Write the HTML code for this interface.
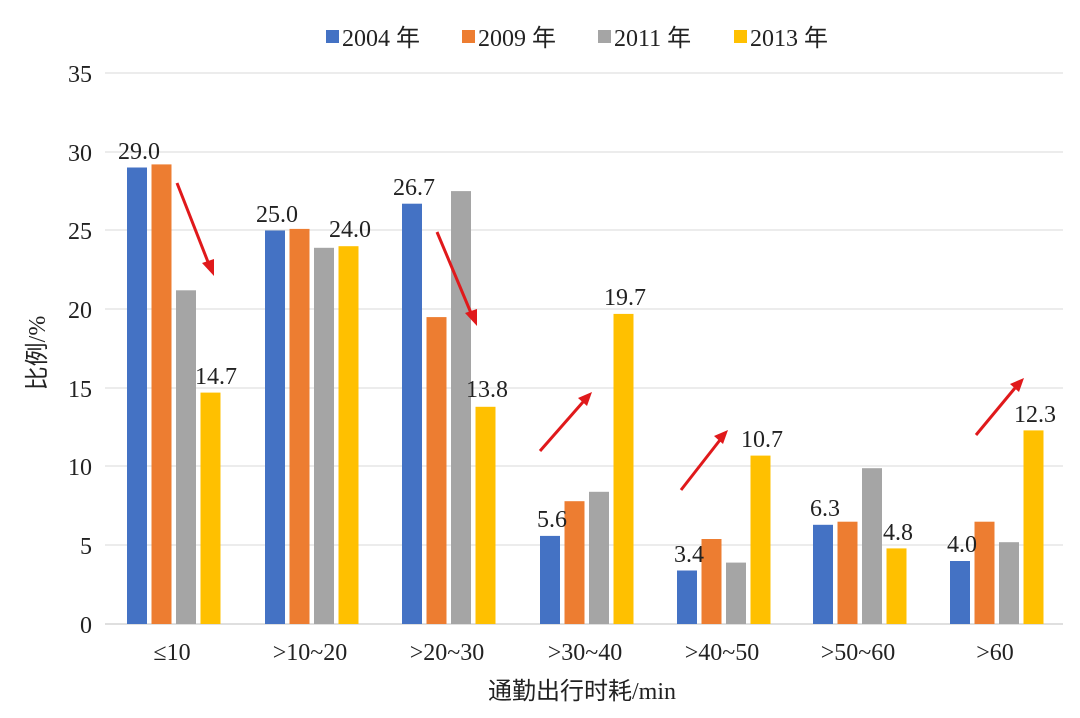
<!DOCTYPE html>
<html><head><meta charset="utf-8"><style>
body{margin:0;background:#fff;}
text{font-family:"Liberation Serif","Noto Sans CJK SC",serif;fill:#222;}
</style></head><body>
<svg width="1080" height="713" xmlns="http://www.w3.org/2000/svg">
<g stroke="#d9d9d9" stroke-width="1">
<line x1="105" x2="1063" y1="73" y2="73"/><line x1="105" x2="1063" y1="152" y2="152"/>
<line x1="105" x2="1063" y1="230" y2="230"/><line x1="105" x2="1063" y1="309" y2="309"/>
<line x1="105" x2="1063" y1="388" y2="388"/><line x1="105" x2="1063" y1="466" y2="466"/>
<line x1="105" x2="1063" y1="545" y2="545"/>
</g>
<line x1="105" x2="1063" y1="624" y2="624" stroke="#bfbfbf"/>
<g font-size="24" text-anchor="end">
<text x="92" y="82">35</text><text x="92" y="161">30</text><text x="92" y="239">25</text>
<text x="92" y="318">20</text><text x="92" y="397">15</text><text x="92" y="475">10</text>
<text x="92" y="554">5</text><text x="92" y="633">0</text></g>
<g>
<rect x="127" y="167.5" width="20" height="456.5" fill="#4472C4"/><rect x="151.5" y="164.4" width="20" height="459.6" fill="#ED7D31"/><rect x="176" y="290.3" width="20" height="333.7" fill="#A5A5A5"/><rect x="200.5" y="392.6" width="20" height="231.4" fill="#FFC000"/>
<rect x="265" y="230.5" width="20" height="393.5" fill="#4472C4"/><rect x="289.5" y="228.9" width="20" height="395.1" fill="#ED7D31"/><rect x="314" y="247.8" width="20" height="376.2" fill="#A5A5A5"/><rect x="338.5" y="246.2" width="20" height="377.8" fill="#FFC000"/>
<rect x="402" y="203.7" width="20" height="420.3" fill="#4472C4"/><rect x="426.5" y="317.1" width="20" height="306.9" fill="#ED7D31"/><rect x="451" y="191.1" width="20" height="432.9" fill="#A5A5A5"/><rect x="475.5" y="406.8" width="20" height="217.2" fill="#FFC000"/>
<rect x="540" y="535.9" width="20" height="88.1" fill="#4472C4"/><rect x="564.5" y="501.2" width="20" height="122.8" fill="#ED7D31"/><rect x="589" y="491.8" width="20" height="132.2" fill="#A5A5A5"/><rect x="613.5" y="313.9" width="20" height="310.1" fill="#FFC000"/>
<rect x="677" y="570.5" width="20" height="53.5" fill="#4472C4"/><rect x="701.5" y="539" width="20" height="85" fill="#ED7D31"/><rect x="726" y="562.6" width="20" height="61.4" fill="#A5A5A5"/><rect x="750.5" y="455.6" width="20" height="168.4" fill="#FFC000"/>
<rect x="813" y="524.8" width="20" height="99.2" fill="#4472C4"/><rect x="837.5" y="521.7" width="20" height="102.3" fill="#ED7D31"/><rect x="862" y="468.2" width="20" height="155.8" fill="#A5A5A5"/><rect x="886.5" y="548.4" width="20" height="75.6" fill="#FFC000"/>
<rect x="950" y="561" width="20" height="63" fill="#4472C4"/><rect x="974.5" y="521.7" width="20" height="102.3" fill="#ED7D31"/><rect x="999" y="542.2" width="20" height="81.8" fill="#A5A5A5"/><rect x="1023.5" y="430.4" width="20" height="193.6" fill="#FFC000"/>
</g>
<g font-size="24" text-anchor="middle">
<text x="139" y="159">29.0</text><text x="216" y="384">14.7</text>
<text x="277" y="222">25.0</text><text x="350" y="237">24.0</text>
<text x="414" y="195">26.7</text><text x="487" y="397">13.8</text>
<text x="552" y="527">5.6</text><text x="625" y="305">19.7</text>
<text x="689" y="562">3.4</text><text x="762" y="447">10.7</text>
<text x="825" y="516">6.3</text><text x="898" y="540">4.8</text>
<text x="962" y="552">4.0</text><text x="1035" y="422">12.3</text>
</g>
<g font-size="24" text-anchor="middle">
<text x="172" y="660">≤10</text><text x="310" y="660">&gt;10~20</text><text x="447" y="660">&gt;20~30</text>
<text x="585" y="660">&gt;30~40</text><text x="722" y="660">&gt;40~50</text><text x="858" y="660">&gt;50~60</text>
<text x="995" y="660">&gt;60</text>
<text x="582" y="699">通勤出行时耗/min</text>
</g>
<text font-size="24" transform="translate(45,353) rotate(-90)" text-anchor="middle">比例/%</text>
<g font-size="24">
<rect x="326" y="30" width="13" height="13" fill="#4472C4"/><text x="342" y="46">2004 年</text>
<rect x="462" y="30" width="13" height="13" fill="#ED7D31"/><text x="478" y="46">2009 年</text>
<rect x="598" y="30" width="13" height="13" fill="#A5A5A5"/><text x="614" y="46">2011 年</text>
<rect x="734" y="30" width="13" height="13" fill="#FFC000"/><text x="750" y="46">2013 年</text>
</g>
<g stroke="#e0191b" stroke-width="3" fill="#e0191b">
<line x1="177" y1="183" x2="208" y2="262"/><polygon points="214,276 202,263 214,259" stroke="none"/>
<line x1="437" y1="232" x2="471" y2="313"/><polygon points="477,326 465,313 477,309" stroke="none"/>
<line x1="540" y1="451" x2="583" y2="402"/><polygon points="592,392 578,398 587,406" stroke="none"/>
<line x1="681" y1="490" x2="720" y2="440"/><polygon points="728,430 714,436 723,444" stroke="none"/>
<line x1="976" y1="435" x2="1015" y2="388"/><polygon points="1024,378 1010,384 1019,392" stroke="none"/>
</g>
</svg>
</body></html>
